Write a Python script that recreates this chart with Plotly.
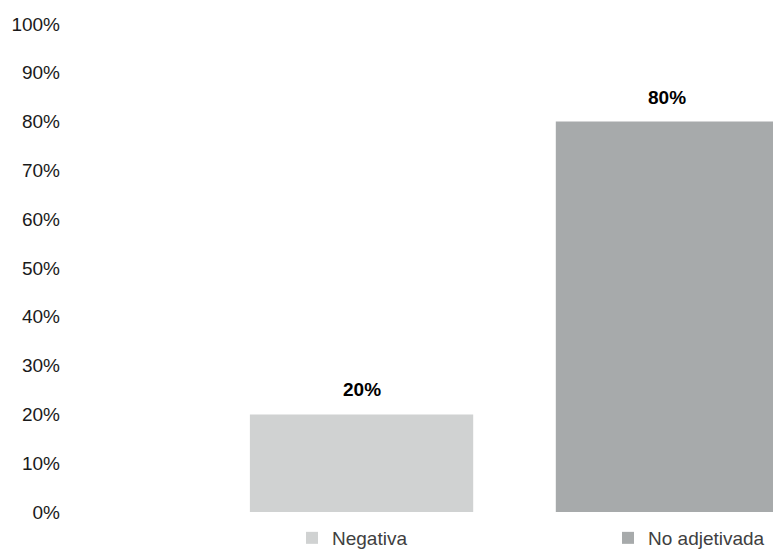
import plotly.graph_objects as go

categories = ["Negativa", "No adjetivada"]
values = [20, 80]
colors = ["#d0d2d2", "#a7aaab"]
value_labels = ["20%", "80%"]
tick_vals = [0, 10, 20, 30, 40, 50, 60, 70, 80, 90, 100]
tick_text = ["0%", "10%", "20%", "30%", "40%", "50%", "60%", "70%", "80%", "90%", "100%"]

FONT = "Liberation Sans, Arial, sans-serif"

fig = go.Figure()
for cat, val, col in zip(categories, values, colors):
    fig.add_trace(go.Bar(
        x=[cat], y=[val], name=cat, marker=dict(color=col, line=dict(width=0)),
        width=0.73, showlegend=True,
    ))

for cat, val, lab in zip(categories, values, value_labels):
    fig.add_annotation(x=cat, y=val, text="<b>" + lab + "</b>", showarrow=False,
                       yanchor="bottom", yshift=12,
                       font=dict(family=FONT, size=19, color="#000000"))

fig.update_layout(
    width=773, height=553,
    margin=dict(l=70, r=0, t=24, b=41, autoexpand=False),
    paper_bgcolor="white", plot_bgcolor="white",
    barmode="overlay",
    font=dict(family=FONT, size=19, color="#1a1a1a"),
    xaxis=dict(type="category", range=[-0.953, 1.345], showticklabels=False,
               showgrid=False, zeroline=False, showline=False),
    yaxis=dict(range=[0, 100], tickvals=tick_vals, ticktext=tick_text,
               showgrid=False, zeroline=False, showline=False, ticks="",
               ticklabelstandoff=9, automargin=False,
               tickfont=dict(family=FONT, size=19, color="#1a1a1a")),
    legend=dict(orientation="h", xref="container", yref="container",
                x=292/773, y=15/553, xanchor="left", yanchor="middle",
                entrywidth=271, font=dict(family=FONT, size=19, color="#404040"),
                bgcolor="rgba(0,0,0,0)"),
)

fig.write_html("out.html", config={"displayModeBar": False},
               post_script="document.body.style.margin='0';document.body.style.overflow='hidden';")
